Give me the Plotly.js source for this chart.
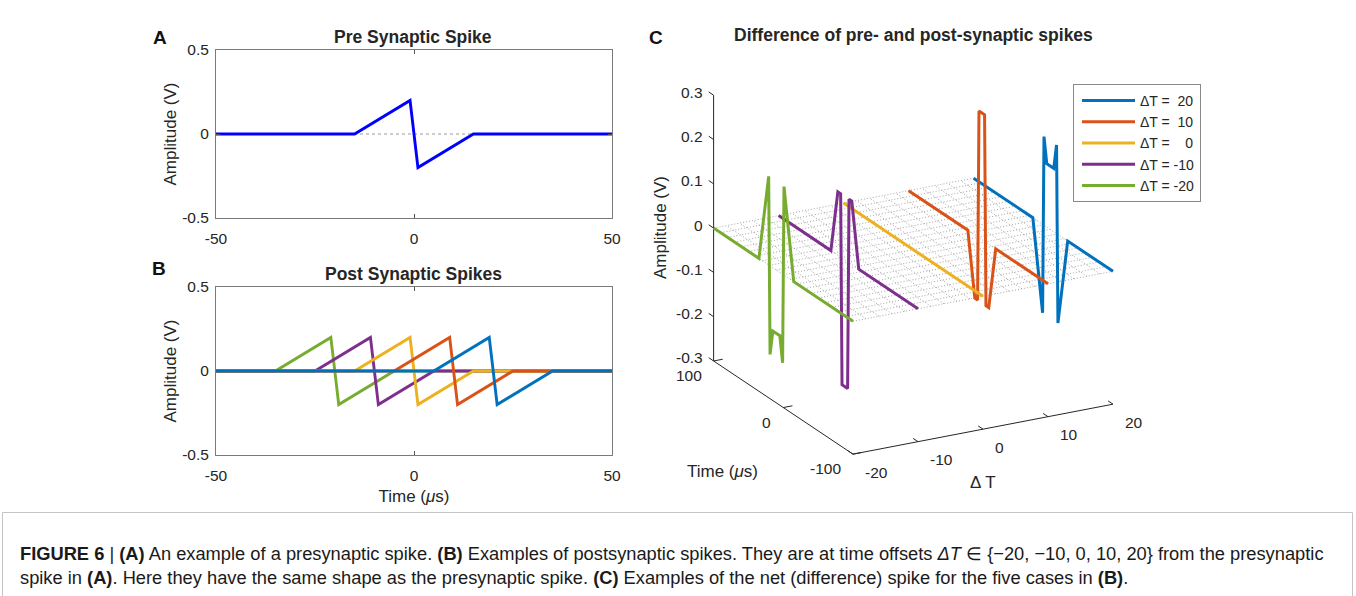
<!DOCTYPE html>
<html><head><meta charset="utf-8">
<script src="https://cdn.plot.ly/plotly-3.0.1.min.js"></script>
<style>html,body{margin:0;padding:0;background:#fff;} #chart{width:1356px;height:596px;}</style>
</head><body><div id="chart"></div>
<script>
// ---------- Panel A: pre-synaptic spike ----------
const preTime = [-50, -15, -1, 1, 15, 50];
const preAmp  = [0, 0, 0.2, -0.2, 0, 0];
const zeroTime = [-50, 50];
const zeroAmp  = [0, 0];

// ---------- Panel B: post-synaptic spikes ----------
const deltaT = [20, 10, 0, -10, -20];
const seriesColors = ['#0072BD', '#D95319', '#EDB120', '#7E2F8E', '#77AC30'];
const postTimeP20 = [-50, 5, 19, 21, 35, 50];
const postTimeP10 = [-50, -5, 9, 11, 25, 50];
const postTime0   = [-50, -15, -1, 1, 15, 50];
const postTimeM10 = [-50, -25, -11, -9, 5, 50];
const postTimeM20 = [-50, -35, -21, -19, -5, 50];
const postAmp     = [0, 0, 0.2, -0.2, 0, 0];

// ---------- Panel C: difference spikes (3-D view) ----------
const diffTimeP20 = [100, 15, 1, -1, -5, -15, -19, -21, -35, -100];
const diffAmpP20  = [0, 0, -0.2, 0.2, 0.143, 0.143, 0.2, -0.2, 0, 0];
const diffTimeP10 = [100, 15, 5, 1, -1, -9, -11, -15, -25, -100];
const diffAmpP10  = [0, 0, -0.143, -0.143, 0.286, 0.286, -0.143, -0.143, 0, 0];
const diffTime0   = [100, -100];
const diffAmp0    = [0, 0];
const diffTimeM10 = [100, 25, 15, 11, 9, 1, -1, -5, -15, -100];
const diffAmpM10  = [0, 0, 0.143, 0.143, -0.286, -0.286, 0.143, 0.143, 0, 0];
const diffTimeM20 = [100, 35, 21, 19, 15, 5, 1, -1, -15, -100];
const diffAmpM20  = [0, 0, 0.2, -0.2, -0.143, -0.143, -0.2, 0.2, 0, 0];
const gridDT   = [-20, -18, -16, -14, -12, -10, -8, -6, -4, -2, 0, 2, 4, 6, 8, 10, 12, 14, 16, 18, 20];
const gridTime = [-100, -90, -80, -70, -60, -50, -40, -30, -20, -10, 0, 10, 20, 30, 40, 50, 60, 70, 80, 90, 100];
const dtRange = [-20, 20];
const timeRangeC = [-100, 100];
const ampRangeC = [-0.3, 0.3];

// ---------- ticks ----------
const xTicksAB = [-50, 0, 50];
const xTickTextAB = ['-50', '0', '50'];
const yTicksAB = [-0.5, 0, 0.5];
const yTickTextAB = ['-0.5', '0', '0.5'];
const dtTicks = [-20, -10, 0, 10, 20];
const dtTickText = ['-20', '-10', '0', '10', '20'];
const timeTicksC = [-100, 0, 100];
const timeTickTextC = ['-100', '0', '100'];
const ampTicksC = [-0.3, -0.2, -0.1, 0, 0.1, 0.2, 0.3];
const ampTickTextC = ['-0.3', '-0.2', '-0.1', '0', '0.1', '0.2', '0.3'];

const FONT = 'Liberation Sans, Arial, Helvetica, sans-serif';
const TXT = '#262626';
const W = 1356, H = 596;
const px = v => v / W, py = v => 1 - v / H;

// orthographic 3-D view (MATLAB-style azimuth / elevation) mapped onto a hidden 2-D axis pair
const view = {az: -28.2, el: 21.0, aspect: [1, 1, 0.965], scale: 295};
function project(d, t, a) {
  const nx = ((d - dtRange[0]) / (dtRange[1] - dtRange[0]) - 0.5) * view.aspect[0];
  const ny = ((t - timeRangeC[0]) / (timeRangeC[1] - timeRangeC[0]) - 0.5) * view.aspect[1];
  const nz = ((a - ampRangeC[0]) / (ampRangeC[1] - ampRangeC[0]) - 0.5) * view.aspect[2];
  const az = view.az * Math.PI / 180, el = view.el * Math.PI / 180;
  return [view.scale * (Math.cos(az) * nx + Math.sin(az) * ny),
          view.scale * (-Math.sin(az) * Math.sin(el) * nx + Math.cos(az) * Math.sin(el) * ny + Math.cos(el) * nz)];
}
function polyline3(ds, ts, as) {
  const xs = [], ys = [];
  for (let i = 0; i < ts.length; i++) {
    if (ts[i] === null) { xs.push(null); ys.push(null); continue; }
    const p = project(ds[i], ts[i], as[i]); xs.push(p[0]); ys.push(p[1]);
  }
  return {x: xs, y: ys};
}

const traces = [];
// A
traces.push({x: zeroTime, y: zeroAmp, xaxis: 'x', yaxis: 'y', mode: 'lines', showlegend: false, hoverinfo: 'skip',
  line: {color: '#9a9a9a', width: 1, dash: 'dot'}});
traces.push({x: preTime, y: preAmp, xaxis: 'x', yaxis: 'y', mode: 'lines', showlegend: false,
  line: {color: '#0000FF', width: 2.9}});
// B (drawn from -20 to 20 so blue ends on top)
traces.push({x: zeroTime, y: zeroAmp, xaxis: 'x2', yaxis: 'y2', mode: 'lines', showlegend: false, hoverinfo: 'skip',
  line: {color: '#9a9a9a', width: 1, dash: 'dot'}});
const postTimes = [postTimeP20, postTimeP10, postTime0, postTimeM10, postTimeM20];
for (let i = 4; i >= 0; i--) {
  traces.push({x: postTimes[i], y: postAmp, xaxis: 'x2', yaxis: 'y2', mode: 'lines', showlegend: false,
    line: {color: seriesColors[i], width: 2.9}});
}

// C: grid plane at zero amplitude
const gD = [], gT = [], gA = [];
gridDT.forEach(d => { gD.push(d, d, null); gT.push(timeRangeC[0], timeRangeC[1], null); gA.push(0, 0, null); });
gridTime.forEach(t => { gD.push(dtRange[0], dtRange[1], null); gT.push(t, t, null); gA.push(0, 0, null); });
const gridXY = polyline3(gD, gT, gA);
traces.push({x: gridXY.x, y: gridXY.y, xaxis: 'x3', yaxis: 'y3', mode: 'lines', connectgaps: false, showlegend: false,
  hoverinfo: 'skip', line: {color: '#9c9c9c', width: 0.9, dash: '1px,2px'}});

// C: axis lines and tick marks
const tickFrac = 0.035;
const aD = [], aT = [], aA = [];
aD.push(dtRange[0], dtRange[1], null); aT.push(timeRangeC[0], timeRangeC[0], null); aA.push(ampRangeC[0], ampRangeC[0], null);
aD.push(dtRange[0], dtRange[0], null); aT.push(timeRangeC[0], timeRangeC[1], null); aA.push(ampRangeC[0], ampRangeC[0], null);
aD.push(dtRange[0], dtRange[0], null); aT.push(timeRangeC[1], timeRangeC[1], null); aA.push(ampRangeC[0], ampRangeC[1], null);
const tSpan = timeRangeC[1] - timeRangeC[0], dSpan = dtRange[1] - dtRange[0];
dtTicks.forEach(d => { aD.push(d, d, null); aT.push(timeRangeC[0], timeRangeC[0] + tickFrac * tSpan, null); aA.push(ampRangeC[0], ampRangeC[0], null); });
timeTicksC.forEach(t => { aD.push(dtRange[0], dtRange[0] + tickFrac * dSpan, null); aT.push(t, t, null); aA.push(ampRangeC[0], ampRangeC[0], null); });
ampTicksC.forEach(a => { aD.push(dtRange[0], dtRange[0], null); aT.push(timeRangeC[1], timeRangeC[1] + tickFrac * tSpan, null); aA.push(a, a, null); });
const axXY = polyline3(aD, aT, aA);
traces.push({x: axXY.x, y: axXY.y, xaxis: 'x3', yaxis: 'y3', mode: 'lines', connectgaps: false, showlegend: false,
  hoverinfo: 'skip', line: {color: '#262626', width: 1}});

// C: difference series (back to front; legend order 20 -> -20)
const diffTimes = [diffTimeP20, diffTimeP10, diffTime0, diffTimeM10, diffTimeM20];
const diffAmps = [diffAmpP20, diffAmpP10, diffAmp0, diffAmpM10, diffAmpM20];
const legendNames = ['\u0394T =\u00a0\u00a020', '\u0394T =\u00a0\u00a010', '\u0394T =\u00a0\u00a0\u00a0\u00a00', '\u0394T = -10', '\u0394T = -20'];
for (let i = 0; i < 5; i++) {
  const xy = polyline3(diffTimes[i].map(() => deltaT[i]), diffTimes[i], diffAmps[i]);
  traces.push({x: xy.x, y: xy.y, xaxis: 'x3', yaxis: 'y3', mode: 'lines', name: legendNames[i],
    line: {color: seriesColors[i], width: 3}});
}

// C: tick labels positioned through the projection
const annC = [];
const lblFont = {family: FONT, size: 15.5, color: TXT};
dtTicks.forEach((d, i) => { const p = project(d, timeRangeC[0], ampRangeC[0]);
  annC.push({text: dtTickText[i], x: p[0] + 10, y: p[1] - 18, xref: 'x3', yref: 'y3', xanchor: 'left', yanchor: 'middle', showarrow: false, font: lblFont}); });
timeTicksC.forEach((t, i) => { const p = project(dtRange[0], t, ampRangeC[0]);
  annC.push({text: timeTickTextC[i], x: p[0] - 10, y: p[1] - 14.5, xref: 'x3', yref: 'y3', xanchor: 'right', yanchor: 'middle', showarrow: false, font: lblFont}); });
ampTicksC.forEach((a, i) => { const p = project(dtRange[0], timeRangeC[1], a);
  annC.push({text: ampTickTextC[i], x: p[0] - 9, y: p[1] + 3, xref: 'x3', yref: 'y3', xanchor: 'right', yanchor: 'middle', showarrow: false, font: lblFont}); });

function ax2d(domain, ticks, text, extra) {
  return Object.assign({domain: domain, tickvals: ticks, ticktext: text, showline: true, mirror: 'ticks',
    linecolor: '#7a7a7a', linewidth: 1, ticks: 'inside', ticklen: 4, tickcolor: '#555', showgrid: false, zeroline: false,
    tickfont: {family: FONT, size: 15.5, color: TXT}, fixedrange: true}, extra);
}
const titleFont = {family: FONT, size: 17, color: TXT};
const cx = 913.3, cy = 249.7;

const layout = {
  width: W, height: H, margin: {l: 0, r: 0, t: 0, b: 0}, paper_bgcolor: '#fff', plot_bgcolor: '#fff',
  font: {family: FONT, color: TXT},
  xaxis: ax2d([px(216), px(612)], xTicksAB, xTickTextAB, {range: [-50, 50], anchor: 'y', ticklabelstandoff: 6}),
  yaxis: ax2d([py(218), py(50)], yTicksAB, yTickTextAB, {range: [-0.5, 0.5], anchor: 'x', ticklabelstandoff: 3,
    title: {text: 'Amplitude (V)', font: titleFont, standoff: 1}}),
  xaxis2: ax2d([px(216), px(612)], xTicksAB, xTickTextAB, {range: [-50, 50], anchor: 'y2', ticklabelstandoff: 6,
    title: {text: 'Time (<i>\u03bc</i>s)', font: titleFont, standoff: 7}}),
  yaxis2: ax2d([py(455), py(287)], yTicksAB, yTickTextAB, {range: [-0.5, 0.5], anchor: 'x2', ticklabelstandoff: 3,
    title: {text: 'Amplitude (V)', font: titleFont, standoff: 1}}),
  xaxis3: {domain: [px(cx - 300), px(cx + 300)], range: [-300, 300], visible: false, fixedrange: true, anchor: 'y3'},
  yaxis3: {domain: [py(cy + 240), py(cy - 240)], range: [-240, 240], visible: false, fixedrange: true, anchor: 'x3'},
  showlegend: true,
  legend: {x: px(1073), y: py(84), xanchor: 'left', yanchor: 'top', bordercolor: '#8a8a8a', borderwidth: 1,
    bgcolor: '#fff', font: {family: FONT, size: 14, color: TXT}, traceorder: 'normal', itemwidth: 56, tracegroupgap: 0},
  shapes: [
    {type: 'rect', xref: 'paper', yref: 'paper', x0: px(2.5), x1: px(1352.5), y0: py(600), y1: py(512.5),
      line: {color: '#c4c4c4', width: 1}, fillcolor: 'rgba(0,0,0,0)'}
  ],
  annotations: [
    {text: '<b>Pre Synaptic Spike</b>', x: px(413), y: py(37), xref: 'paper', yref: 'paper', xanchor: 'center', yanchor: 'middle', showarrow: false, font: {size: 17.5}},
    {text: '<b>Post Synaptic Spikes</b>', x: px(413), y: py(274), xref: 'paper', yref: 'paper', xanchor: 'center', yanchor: 'middle', showarrow: false, font: {size: 17.5}},
    {text: '<b>Difference of pre- and post-synaptic spikes</b>', x: px(913), y: py(35), xref: 'paper', yref: 'paper', xanchor: 'center', yanchor: 'middle', showarrow: false, font: {size: 17.5}},
    {text: '<b>A</b>', x: px(159.5), y: py(37), xref: 'paper', yref: 'paper', xanchor: 'center', yanchor: 'middle', showarrow: false, font: {size: 19, color: '#111'}},
    {text: '<b>B</b>', x: px(158.5), y: py(268), xref: 'paper', yref: 'paper', xanchor: 'center', yanchor: 'middle', showarrow: false, font: {size: 19, color: '#111'}},
    {text: '<b>C</b>', x: px(656), y: py(37), xref: 'paper', yref: 'paper', xanchor: 'center', yanchor: 'middle', showarrow: false, font: {size: 19, color: '#111'}},
    {text: 'Amplitude (V)', x: px(660), y: py(228), xref: 'paper', yref: 'paper', xanchor: 'center', yanchor: 'middle', showarrow: false, textangle: -90, font: titleFont},
    {text: 'Time (<i>\u03bc</i>s)', x: px(722), y: py(471), xref: 'paper', yref: 'paper', xanchor: 'center', yanchor: 'middle', showarrow: false, font: titleFont},
    {text: '\u0394 T', x: px(983), y: py(482), xref: 'paper', yref: 'paper', xanchor: 'center', yanchor: 'middle', showarrow: false, font: titleFont},
    {text: '<b>FIGURE 6</b> | <b>(A)</b> An example of a presynaptic spike. <b>(B)</b> Examples of postsynaptic spikes. They are at time offsets <i>\u0394T</i> \u2208 {\u221220, \u221210, 0, 10, 20} from the presynaptic<br>spike in <b>(A)</b>. Here they have the same shape as the presynaptic spike. <b>(C)</b> Examples of the net (difference) spike for the five cases in <b>(B)</b>.',
      x: px(18), y: py(565.5), xref: 'paper', yref: 'paper', xanchor: 'left', yanchor: 'middle', align: 'left', showarrow: false,
      font: {size: 18.3, color: '#1a1a1a'}}
  ].concat(annC)
};

Plotly.newPlot('chart', traces, layout, {displayModeBar: false, staticPlot: true}).then(gd => {
  // lengthen the legend line samples to match the reference legend
  gd.querySelectorAll('.legendlines path').forEach(p => p.setAttribute('d', 'M8,0h53'));
});
</script></body></html>
